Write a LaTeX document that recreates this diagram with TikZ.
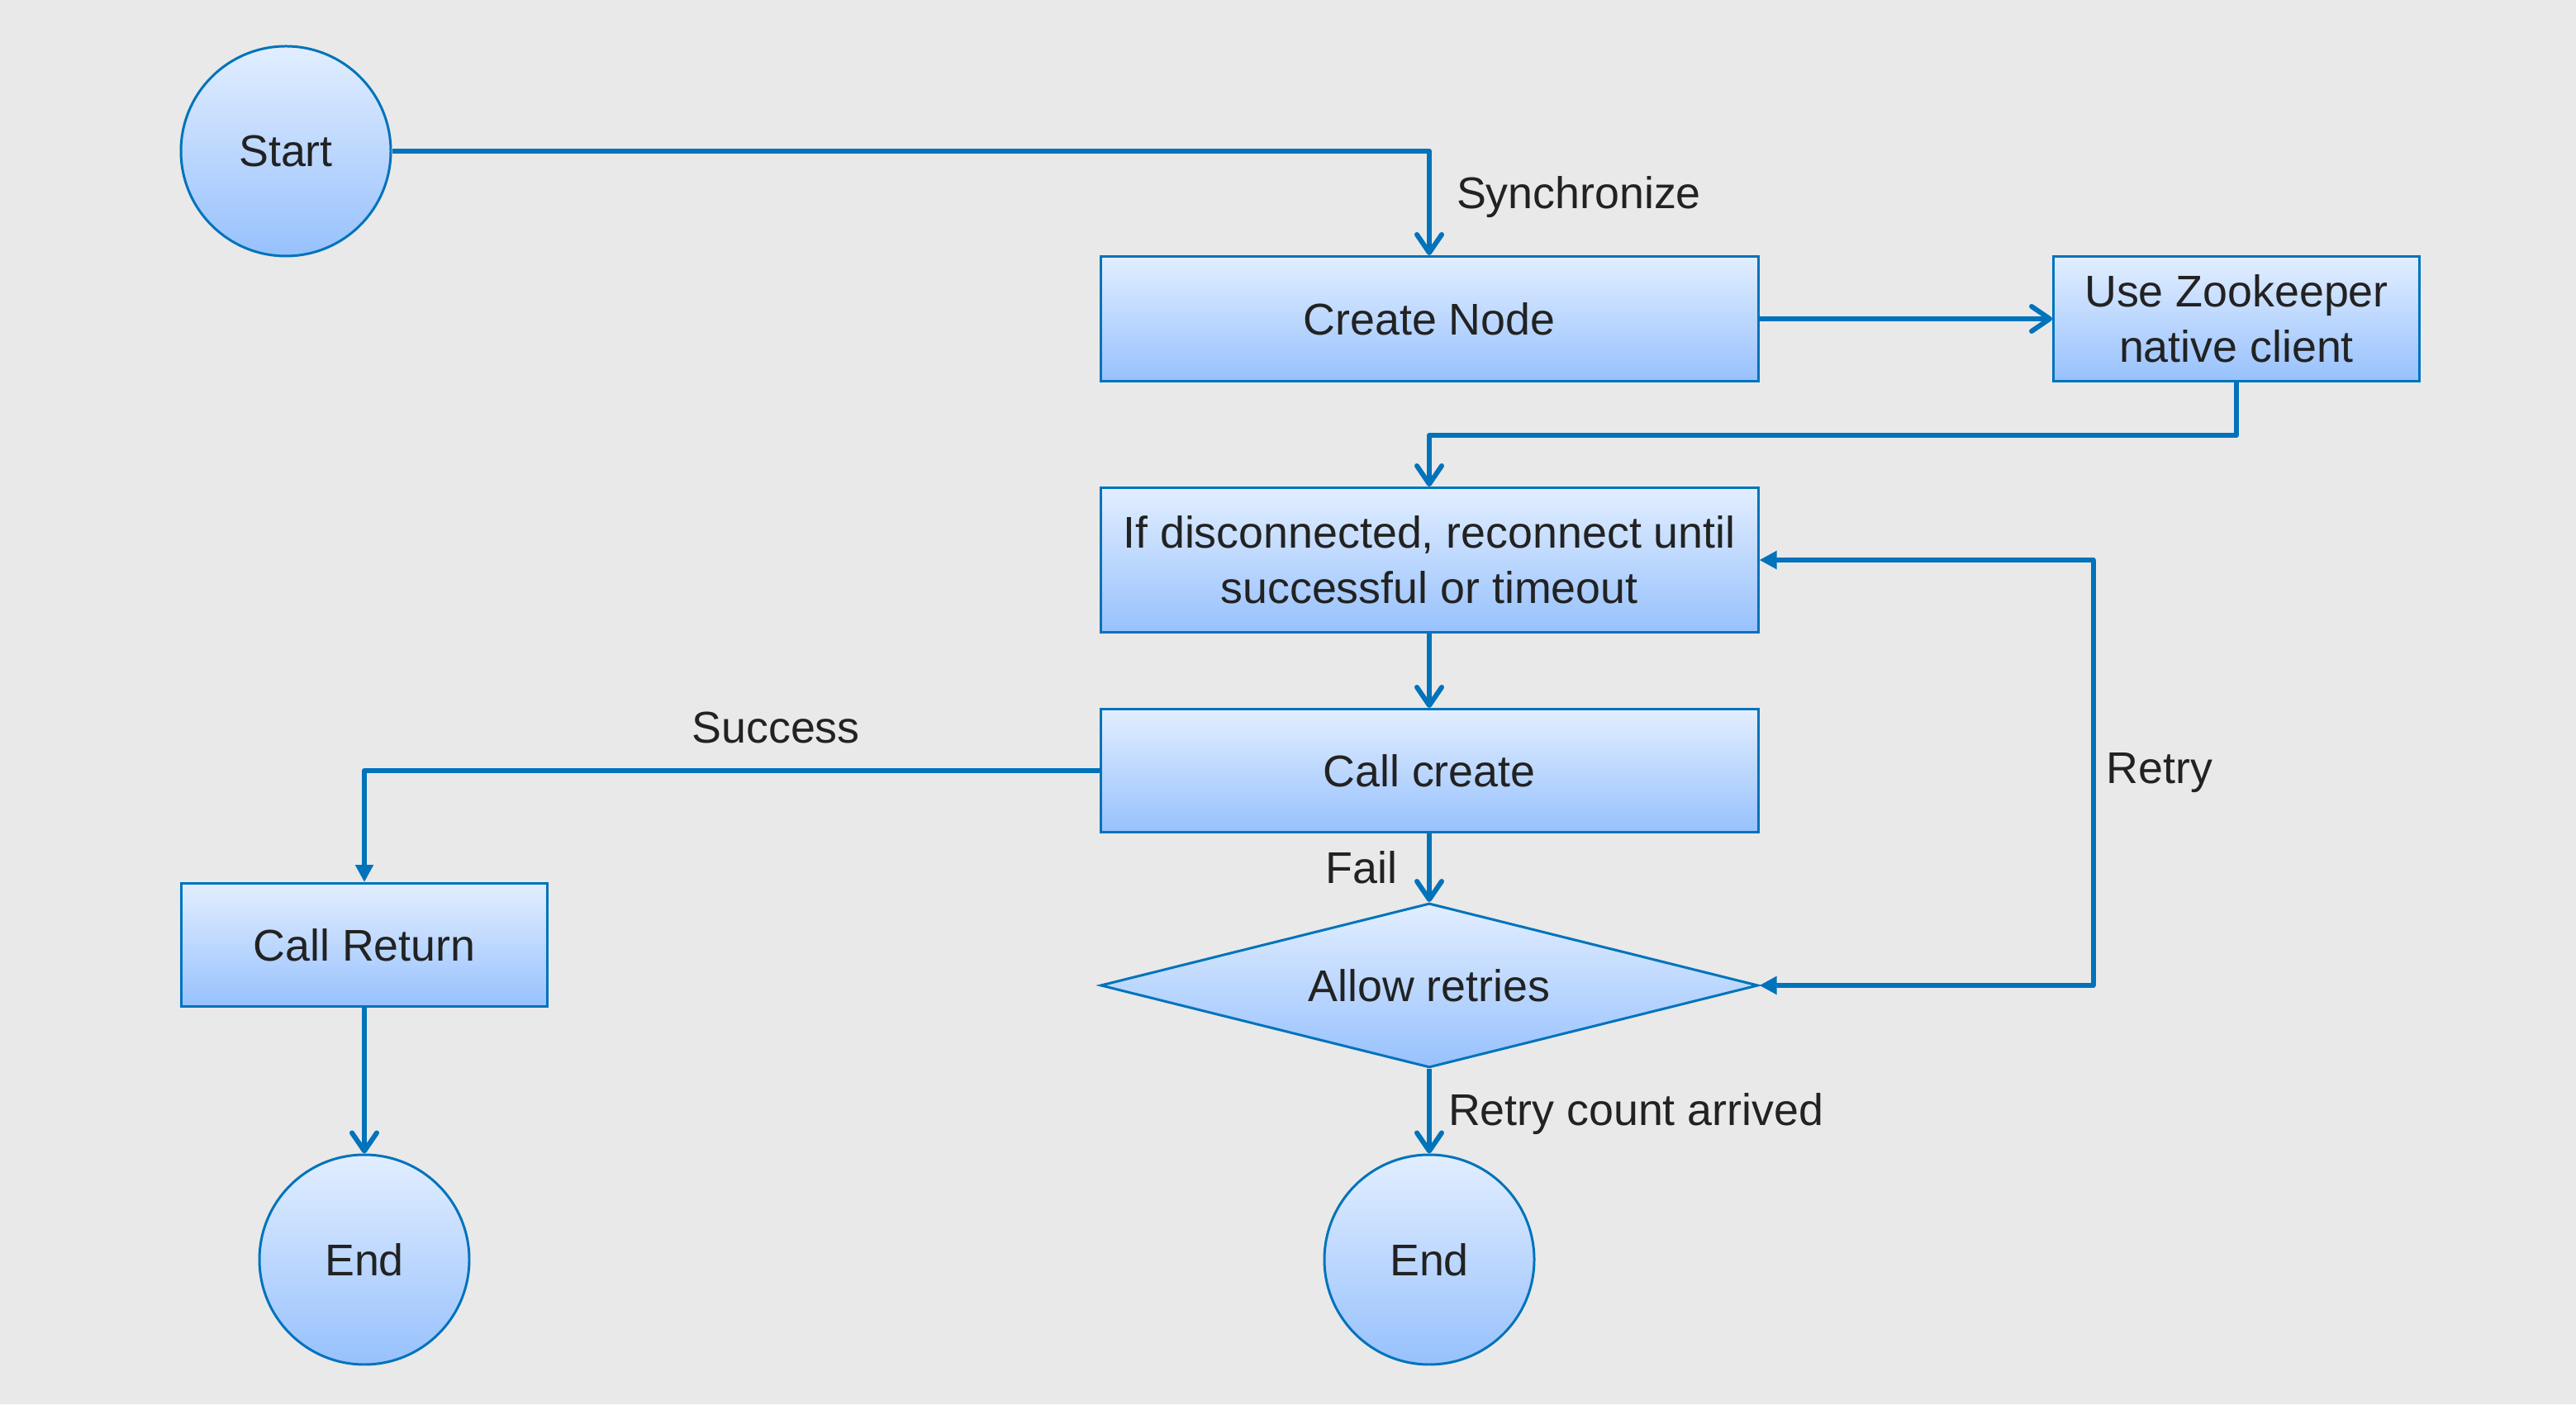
\documentclass[tikz,border=0pt]{standalone}
\usepackage{fontspec}
\setmainfont{Liberation Sans}
\usetikzlibrary{shapes.geometric,arrows.meta}
\definecolor{bg}{HTML}{E9E9E9}
\definecolor{edgeblue}{HTML}{0073BB}
\definecolor{boxtop}{HTML}{E2EEFF}
\definecolor{boxbot}{HTML}{97C1FD}
\definecolor{ink}{HTML}{222222}
\newcommand{\flowfont}{\fontsize{15.3}{19}\selectfont}
\tikzstyle{base}=[draw=edgeblue,line width=0.85pt,top color=boxtop,bottom color=boxbot,text=ink,font=\flowfont,align=center,inner sep=0pt]
\tikzstyle{term}=[base,shape=circle,minimum size=2.54cm]
\tikzstyle{proc}=[base,shape=rectangle,minimum width=7.96cm,minimum height=1.51cm]
\tikzstyle{dec}=[base,shape=diamond,aspect=4,minimum width=7.96cm,minimum height=1.99cm]
\tikzstyle{lbl}=[text=ink,font=\flowfont,inner sep=0pt]
\tikzstyle{from}=[{Straight Barb[length=0.22cm,width=0.3cm,round]}-,draw=edgeblue,line width=1.7pt,line join=round]
\tikzstyle{to}=[-{Straight Barb[length=0.22cm,width=0.3cm,round]},draw=edgeblue,line width=1.7pt,line join=round]
\tikzstyle{tri}=[-{Triangle[length=0.21cm,width=0.21cm]},draw=edgeblue,line width=1.7pt,line join=round]
\tikzstyle{tritri}=[{Triangle[length=0.21cm,width=0.21cm]}-{Triangle[length=0.21cm,width=0.21cm]},draw=edgeblue,line width=1.7pt,line join=round]

\begin{document}
\begin{tikzpicture}
        \fill[bg] (0,0) rectangle (31.18,17);
        \useasboundingbox (0,0) rectangle (31.18,17);

        \node[term] (start) at (3.46,15.17) {Start};
        \node[proc] (create) at (17.30,13.14) {Create Node};
        \node[proc, minimum width=4.43cm] (zk) at (27.07,13.14) {Use Zookeeper\\native client}
            edge[from] (create)
        ;
        \node[proc, minimum height=1.75cm] (recon) at (17.30,10.22) {If disconnected, reconnect until\\successful or timeout};
        \node[proc, minimum height=1.49cm] (call) at (17.30,7.67) {Call create}
            edge[from] (recon)
        ;
        \node[dec] (allow) at (17.30,5.07) {Allow retries}
            edge[from] node[lbl, left=0.36cm] (fail) {Fail} (call)
        ;
        \node[term] (endB) at (17.30,1.75) {End}
            edge[from] node[lbl, right=0.2cm, yshift=-0.03cm] (cnt) {Retry count arrived} (allow)
        ;
        \node[proc, minimum width=4.43cm, minimum height=1.49cm] (ret) at (4.41,5.56) {Call Return};
        \node[term] (endA) at (4.41,1.75) {End}
            edge[from] (ret)
        ;

        % bent connectors
        \draw[to] (start) -| node[lbl, pos=.72, right=0.3cm] (syn) {Synchronize} (create);
        \draw[to] (zk.south) -- ++(0,-0.64) -| (recon.north);
        \draw[tri] (call) -| node[lbl, pos=.22, above=0.3cm] (suc) {Success} (ret);
        \draw[tritri] (allow.east) -- ++(4.04,0) |- node[lbl, pos=.25, right=0.13cm] (rty) {Retry} (recon.east);
    \end{tikzpicture}
\end{document}
